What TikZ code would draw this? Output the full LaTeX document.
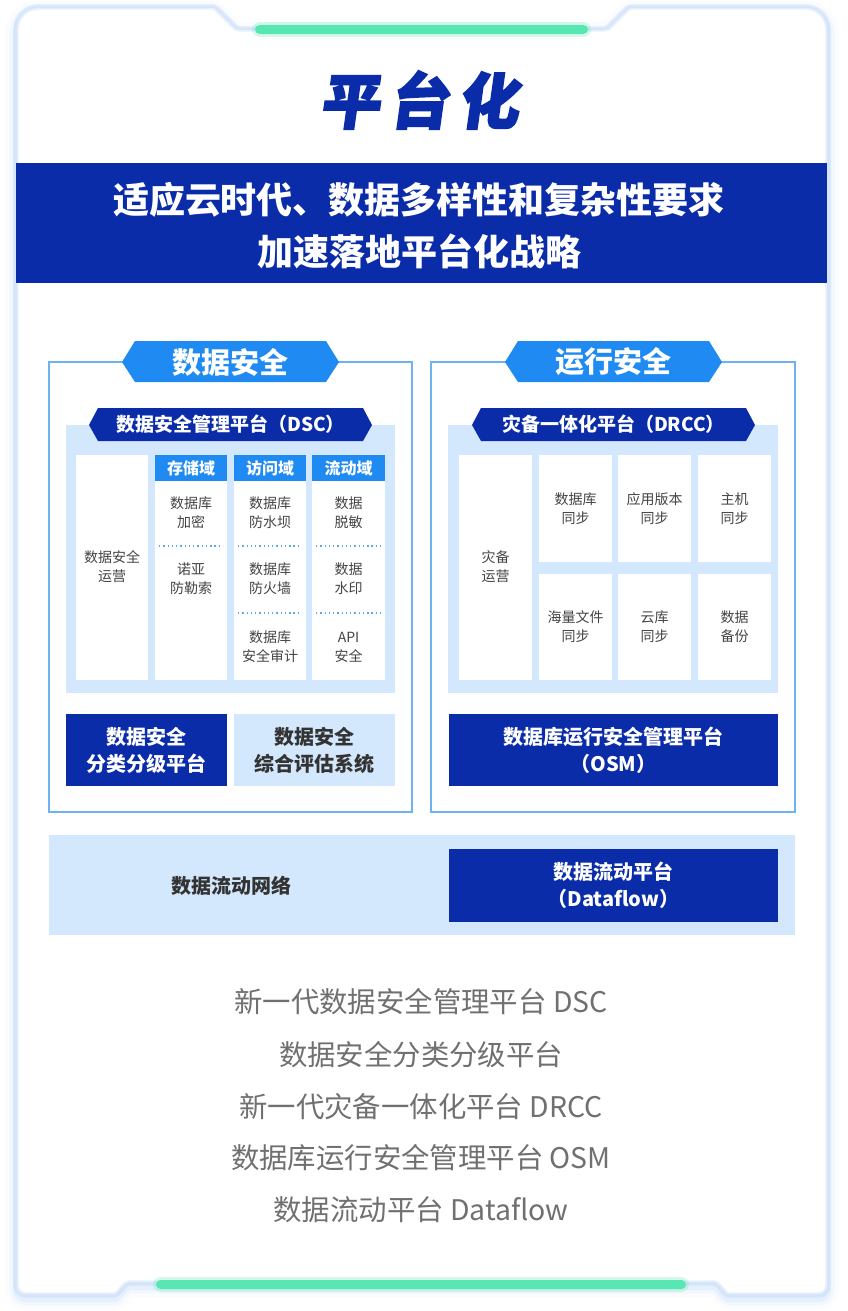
\documentclass[tikz,border=0pt]{standalone}
\usepackage{fontspec}
\setmainfont{Noto Sans CJK SC}
\newfontfamily\titlefont[FakeSlant=0.14,FakeBold=3]{Noto Sans CJK SC}
\definecolor{navy}{HTML}{0A2CA8}
\definecolor{bright}{HTML}{1E8AF2}
\definecolor{lightp}{HTML}{D3E8FC}
\definecolor{bordc}{HTML}{6EB2F2}
\definecolor{cellgray}{HTML}{444444}
\definecolor{darkgray}{HTML}{333333}
\definecolor{listgray}{HTML}{707070}
\definecolor{mint}{HTML}{58E6B2}
\definecolor{glow}{HTML}{9CC3F5}
\definecolor{edgec}{HTML}{D6E6FA}
\definecolor{dotc}{HTML}{5AA8F0}
\begin{document}
\begin{tikzpicture}[x=0.75pt,y=-0.75pt,
  celltxt/.style={font=\fontsize{10.5pt}{14.25pt}\selectfont, text=cellgray, align=center, inner sep=0pt},
  hdrtxt/.style={font=\fontsize{12pt}{14pt}\selectfont\bfseries, text=white, inner sep=0pt},
  boxtxt/.style={font=\fontsize{15pt}{20.25pt}\selectfont\bfseries, align=center, inner sep=0pt},
  hextxt/.style={font=\fontsize{21.75pt}{24pt}\selectfont\bfseries, text=white, inner sep=0pt},
  bantxt/.style={font=\fontsize{14.25pt}{16pt}\selectfont\bfseries, text=white, inner sep=0pt},
  listtxt/.style={font=\fontsize{21.3pt}{24pt}\selectfont, text=listgray, inner sep=0pt},
  panelbox/.style={draw=bordc, line width=1.1pt},
  sep/.style={draw=dotc, line width=1.1pt, dash pattern=on 1pt off 2.2pt},
]
\useasboundingbox (0,0) rectangle (848,1311);
\def\framepath{(16,1285) -- (16,29) .. controls (16,17) and (26,7) .. (38,7) -- (214,7) -- (217,9) -- (236,28) -- (240,29) -- (604,29) -- (608,28) -- (627,9) -- (630,7) -- (806,7) .. controls (818,7) and (828,17) .. (828,29) -- (828,1285) .. controls (828,1291) and (824,1295) .. (818,1295) -- (728,1295) -- (725,1293) -- (718,1285) -- (714,1283) -- (129,1283) -- (125,1285) -- (118,1293) -- (115,1295) -- (26,1295) .. controls (20,1295) and (16,1291) .. (16,1285) -- cycle}
% glow and shadow
\begin{scope}[yshift=-3pt]
\draw[glow, line width=16pt, opacity=0.05, line join=round] \framepath;
\draw[glow, line width=10pt, opacity=0.08, line join=round] \framepath;
\draw[glow, line width=5pt, opacity=0.15, line join=round] \framepath;
\end{scope}
\fill[white] \framepath;
\draw[glow, line width=4pt, opacity=0.25, line join=round] \framepath;
\draw[edgec, line width=1.2pt, line join=round] \framepath;
% green bars
\fill[mint, opacity=0.25, rounded corners=6pt] (252,22) rectangle (591,37);
\fill[mint, rounded corners=3.5pt] (255,25) rectangle (588,34);
\fill[mint, opacity=0.25, rounded corners=6pt] (153,1277) rectangle (689,1292);
\fill[mint, rounded corners=3.5pt] (156,1280) rectangle (686,1289);
% title
\node[text=navy, inner sep=0pt, font=\titlefont\bfseries\fontsize{45pt}{50pt}\selectfont] (title) at (419,100) {平\hspace{7pt}台\hspace{7pt}化};
% banner
\fill[navy] (16,163) rectangle (827,283);
\node[inner sep=0pt, text=white, font=\fontsize{27pt}{30pt}\selectfont\bfseries] (ban1) at (419,200) {适应云时代、数据多样性和复杂性要求};
\node[inner sep=0pt, text=white, font=\fontsize{27pt}{30pt}\selectfont\bfseries] (ban2) at (419,251) {加速落地平台化战略};

% ===== left panel =====
\draw[panelbox] (49,362) rectangle (412,812);
\fill[bright] (122,362) -- (135,341) -- (326,341) -- (339,362) -- (326,382) -- (135,382) -- cycle;
\node[hextxt] (hexL) at (230.5,362) {数据安全};
\fill[lightp] (66,425) rectangle (395,693);
\fill[navy] (89,425) -- (98,408) -- (363,408) -- (372,425) -- (363,441) -- (98,441) -- cycle;
\node[bantxt] (dsc) at (230.5,424.5) {数据安全管理平台（DSC）};
\fill[white] (76,455) rectangle (148,680);
\fill[white] (155,455) rectangle (227,680);
\fill[white] (234,455) rectangle (306,680);
\fill[white] (312,455) rectangle (385,680);
\fill[bright] (155,455) rectangle (227,481);
\fill[bright] (234,455) rectangle (306,481);
\fill[bright] (312,455) rectangle (385,481);
\node[hdrtxt] (h1) at (191,468) {存储域};
\node[hdrtxt] (h2) at (270,468) {访问域};
\node[hdrtxt] (h3) at (348.5,468) {流动域};
\node[celltxt] (l0) at (112,567) {数据安全\\运营};
\node[celltxt] (l1) at (191,513) {数据库\\加密};
\node[celltxt] (l2) at (191,579) {诺亚\\防勒索};
\node[celltxt] (l3) at (270,513) {数据库\\防水坝};
\node[celltxt] (l4) at (270,579) {数据库\\防火墙};
\node[celltxt] (l5) at (270,647) {数据库\\安全审计};
\node[celltxt] (l6) at (348.5,513) {数据\\脱敏};
\node[celltxt] (l7) at (348.5,579) {数据\\水印};
\node[celltxt] (l8) at (348.5,647) {API\\安全};
\draw[sep] (159,546) -- (223,546);
\draw[sep] (238,546) -- (302,546);
\draw[sep] (316,546) -- (381,546);
\draw[sep] (238,613) -- (302,613);
\draw[sep] (316,613) -- (381,613);
\fill[navy] (66,714) rectangle (227,786);
\node[boxtxt, text=white] (cls) at (146.5,750) {数据安全\\分类分级平台};
\fill[lightp] (234,714) rectangle (395,786);
\node[boxtxt, text=darkgray] (eva) at (314.5,750) {数据安全\\综合评估系统};

% ===== right panel =====
\draw[panelbox] (431,362) rectangle (795,812);
\fill[bright] (505,362) -- (518,341) -- (709,341) -- (722,362) -- (709,382) -- (518,382) -- cycle;
\node[hextxt] (hexR) at (613.5,362) {运行安全};
\fill[lightp] (448,425) rectangle (778,693);
\fill[navy] (472,425) -- (481,408) -- (746,408) -- (755,425) -- (746,441) -- (481,441) -- cycle;
\node[bantxt] (drcc) at (613.5,424.5) {灾备一体化平台（DRCC）};
\fill[white] (459,455) rectangle (532,680);
\fill[white] (539,455) rectangle (612,562);
\fill[white] (618,455) rectangle (691,562);
\fill[white] (698,455) rectangle (771,562);
\fill[white] (539,574) rectangle (612,680);
\fill[white] (618,574) rectangle (691,680);
\fill[white] (698,574) rectangle (771,680);
\node[celltxt] (r0) at (495.5,567) {灾备\\运营};
\node[celltxt] (r1) at (575.5,508.5) {数据库\\同步};
\node[celltxt] (r2) at (654.5,508.5) {应用版本\\同步};
\node[celltxt] (r3) at (734.5,508.5) {主机\\同步};
\node[celltxt] (r4) at (575.5,627) {海量文件\\同步};
\node[celltxt] (r5) at (654.5,627) {云库\\同步};
\node[celltxt] (r6) at (734.5,627) {数据\\备份};
\fill[navy] (449,714) rectangle (778,786);
\node[boxtxt, text=white] (osm) at (613.5,750) {数据库运行安全管理平台\\（OSM）};

% ===== bottom band =====
\fill[lightp] (49,835) rectangle (795,935);
\node[boxtxt, text=darkgray] (net) at (231,886) {数据流动网络};
\fill[navy] (449,849) rectangle (778,922);
\node[boxtxt, text=white] (flow) at (613.5,885.5) {数据流动平台\\（Dataflow）};

% ===== list =====
\node[listtxt] (li1) at (421,1002) {新一代数据安全管理平台 DSC};
\node[listtxt] (li2) at (421,1055) {数据安全分类分级平台};
\node[listtxt] (li3) at (421,1107) {新一代灾备一体化平台 DRCC};
\node[listtxt] (li4) at (421,1158) {数据库运行安全管理平台 OSM};
\node[listtxt] (li5) at (421,1210) {数据流动平台 Dataflow};
\end{tikzpicture}
\end{document}
